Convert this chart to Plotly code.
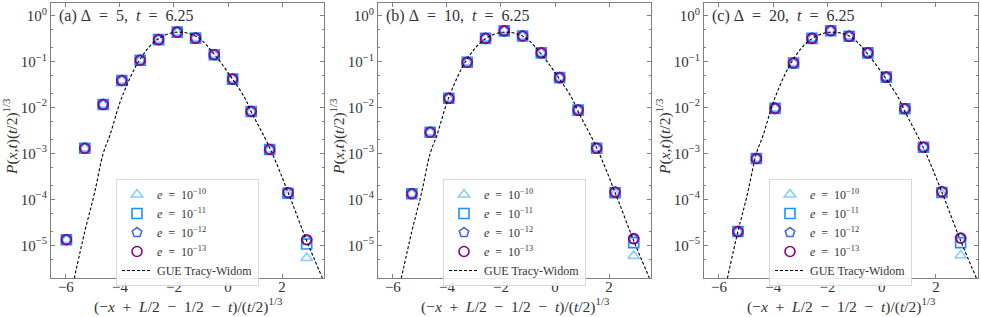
import plotly.graph_objects as go

# ---------------- data ----------------
X_ALL = [-5.98, -5.30, -4.62, -3.93, -3.25, -2.57, -1.88, -1.20, -0.51, 0.17, 0.855, 1.54, 2.22, 2.91]
X_BC = X_ALL[1:]

# panel (a)  Delta = 5
A_TRI = [1.33e-5, 1.3e-3, 1.16e-2, 0.0388, 0.107, 0.30, 0.437, 0.324, 0.141, 0.0415, 0.0082, 1.22e-3, 1.29e-4, 5.3e-6]
A_SQ = [1.33e-5, 1.3e-3, 1.16e-2, 0.0388, 0.107, 0.30, 0.437, 0.324, 0.141, 0.0415, 0.0082, 1.22e-3, 1.36e-4, 1.07e-5]
A_PEN = [1.33e-5, 1.3e-3, 1.16e-2, 0.0388, 0.107, 0.30, 0.437, 0.324, 0.141, 0.0415, 0.0082, 1.22e-3, 1.40e-4, 1.30e-5]
A_CIR = [1.33e-5, 1.3e-3, 1.16e-2, 0.0388, 0.107, 0.30, 0.437, 0.324, 0.141, 0.0415, 0.0082, 1.22e-3, 1.40e-4, 1.33e-5]

# panel (b)  Delta = 10
B_TRI = [1.33e-4, 2.9e-3, 0.0159, 0.0966, 0.32, 0.466, 0.36, 0.155, 0.0447, 0.0088, 1.30e-3, 1.32e-4, 5.9e-6]
B_SQ = [1.33e-4, 2.9e-3, 0.0159, 0.0966, 0.32, 0.466, 0.36, 0.155, 0.0447, 0.0088, 1.30e-3, 1.40e-4, 1.15e-5]
B_PEN = [1.33e-4, 2.9e-3, 0.0159, 0.0966, 0.32, 0.466, 0.36, 0.155, 0.0447, 0.0088, 1.30e-3, 1.44e-4, 1.37e-5]
B_CIR = [1.33e-4, 2.9e-3, 0.0159, 0.0966, 0.32, 0.466, 0.36, 0.155, 0.0447, 0.0088, 1.30e-3, 1.44e-4, 1.40e-5]

# panel (c)  Delta = 20
C_TRI = [2.0e-5, 7.8e-4, 9.6e-3, 0.093, 0.32, 0.47, 0.355, 0.155, 0.046, 0.0094, 1.37e-3, 1.30e-4, 6.0e-6]
C_SQ = [2.0e-5, 7.8e-4, 9.6e-3, 0.093, 0.32, 0.47, 0.355, 0.155, 0.046, 0.0094, 1.37e-3, 1.42e-4, 1.15e-5]
C_PEN = [2.0e-5, 7.8e-4, 9.6e-3, 0.093, 0.32, 0.47, 0.355, 0.155, 0.046, 0.0094, 1.37e-3, 1.47e-4, 1.42e-5]
C_CIR = [2.0e-5, 7.8e-4, 9.6e-3, 0.093, 0.32, 0.47, 0.355, 0.155, 0.046, 0.0094, 1.37e-3, 1.47e-4, 1.45e-5]

# GUE Tracy-Widom curve
TW_X = [-5.69, -5.30, -4.95, -4.62, -4.37, -3.93, -3.26, -2.64, -1.93, -1.16, -0.54, 0.14, 0.63, 0.85, 1.56, 2.23, 2.91, 3.49]
TW_Y = [1.9e-6, 2.0e-5, 1.3e-4, 1.0e-3, 2.5e-3, 1.66e-2, 0.112, 0.295, 0.436, 0.349, 0.152, 0.0437, 0.0158, 8.3e-3, 1.26e-3, 1.38e-4, 1.26e-5, 1.95e-6]

SP = "\u2002"  # en space, mimics math spacing around relations
PANEL_TITLES = [f"(a) Δ{SP}={SP}5,{SP}<i>t</i>{SP}={SP}6.25",
                f"(b) Δ{SP}={SP}10,{SP}<i>t</i>{SP}={SP}6.25",
                f"(c) Δ{SP}={SP}20,{SP}<i>t</i>{SP}={SP}6.25"]
SERIES_NAMES = [f"<i>e</i>{SP}={SP}10<sup>−10</sup>", f"<i>e</i>{SP}={SP}10<sup>−11</sup>",
                f"<i>e</i>{SP}={SP}10<sup>−12</sup>", f"<i>e</i>{SP}={SP}10<sup>−13</sup>"]
X_TITLE = f"(−<i>x</i>{SP}+{SP}<i>L</i>/2{SP}−{SP}1/2{SP}−{SP}<i>t</i>)/(<i>t</i>/2)<sup>1/3</sup>"
Y_TITLE = "<i>P</i>(<i>x</i>,<i>t</i>)(<i>t</i>/2)<sup>1/3</sup>"
X_TICKS = [-6, -4, -2, 0, 2]
X_TICKTEXT = ["−6", "−4", "−2", "0", "2"]
Y_TICKS = [1, 1e-1, 1e-2, 1e-3, 1e-4, 1e-5]
Y_TICKTEXT = ["10<sup>0</sup>", "10<sup>−1</sup>", "10<sup>−2</sup>", "10<sup>−3</sup>",
              "10<sup>−4</sup>", "10<sup>−5</sup>"]

# ---------------- style ----------------
W, H = 981, 317
FONT = "'Liberation Serif', 'Times New Roman', serif"
SYMBOLS = ["triangle-up-open", "square-open", "pentagon-open", "circle-open"]
COLORS = ["#87cefa", "#1e90ff", "#4169e1", "#8b008b"]
AXCOL = "#808080"
TXT = "#333333"

panels_px = [(51, 324), (378, 651), (704, 978)]
top_px, bot_px = 3, 278


def fx(px):
    return px / W


def fy(py):
    return 1 - py / H


fig = go.Figure()

datasets = [
    (X_ALL, [A_TRI, A_SQ, A_PEN, A_CIR]),
    (X_BC, [B_TRI, B_SQ, B_PEN, B_CIR]),
    (X_BC, [C_TRI, C_SQ, C_PEN, C_CIR]),
]
legend_x_px = [116, 443, 769]

for i, (xs, ys_list) in enumerate(datasets):
    sfx = "" if i == 0 else str(i + 1)
    leg = "legend" + sfx
    for j, ys in enumerate(ys_list):
        fig.add_trace(go.Scatter(
            x=xs, y=ys, mode="markers", name=SERIES_NAMES[j],
            marker=dict(symbol=SYMBOLS[j], size=10, color=COLORS[j],
                        line=dict(width=1.6, color=COLORS[j])),
            xaxis="x" + sfx, yaxis="y" + sfx, legend=leg,
        ))
    fig.add_trace(go.Scatter(
        x=TW_X, y=TW_Y, mode="lines", name="GUE Tracy-Widom",
        line=dict(color="black", width=1.1, dash="3px,2px", shape="spline", smoothing=1.0),
        xaxis="x" + sfx, yaxis="y" + sfx, legend=leg,
    ))

layout = dict(
    width=W, height=H,
    margin=dict(l=0, r=0, t=0, b=0),
    paper_bgcolor="white", plot_bgcolor="white",
    font=dict(family=FONT, size=14, color=TXT),
    showlegend=True,
    annotations=[],
)

for i, (l, r) in enumerate(panels_px):
    sfx = "" if i == 0 else str(i + 1)
    layout["xaxis" + sfx] = dict(
        domain=[fx(l), fx(r)], anchor="y" + sfx, range=[-6.55, 3.55],
        tickvals=X_TICKS, ticktext=X_TICKTEXT, ticks="inside", ticklen=4,
        tickcolor=AXCOL, showline=True, linecolor=AXCOL, linewidth=1.2,
        mirror="ticks", showgrid=False, zeroline=False, ticklabelstandoff=-5,
        tickfont=dict(family=FONT, size=15, color=TXT),
    )
    layout["yaxis" + sfx] = dict(
        domain=[fy(bot_px), fy(top_px)], anchor="x" + sfx, type="log",
        range=[-5.71, 0.275], tickvals=Y_TICKS, ticktext=Y_TICKTEXT,
        ticks="inside", ticklen=4, tickcolor=AXCOL, showline=True,
        linecolor=AXCOL, linewidth=1.2, mirror="ticks", showgrid=False,
        zeroline=False, tickfont=dict(family=FONT, size=15, color=TXT),
        minor=dict(ticks="inside", ticklen=2, tickcolor=AXCOL, showgrid=False),
    )
    layout["legend" + sfx] = dict(
        x=fx(legend_x_px[i]), y=fy(179), xanchor="left", yanchor="top",
        xref="paper", yref="paper",
        bgcolor="rgba(255,255,255,0.85)", bordercolor="#d8d8d8", borderwidth=1,
        font=dict(family=FONT, size=12, color=TXT),
        tracegroupgap=0, itemwidth=30,
    )
    # panel label
    layout["annotations"].append(dict(
        text=PANEL_TITLES[i], x=fx(l + 6), y=fy(16), xref="paper", yref="paper",
        xanchor="left", yanchor="middle", showarrow=False,
        font=dict(family=FONT, size=16, color=TXT),
    ))
    # x title
    layout["annotations"].append(dict(
        text=X_TITLE,
        x=fx((l + r) / 2), y=fy(305), xref="paper", yref="paper",
        xanchor="center", yanchor="middle", showarrow=False,
        font=dict(family=FONT, size=15.5, color=TXT),
    ))
    # y title
    layout["annotations"].append(dict(
        text=Y_TITLE,
        x=fx(l - 41), y=fy(137), xref="paper", yref="paper",
        xanchor="center", yanchor="middle", textangle=-90, showarrow=False,
        font=dict(family=FONT, size=15.5, color=TXT),
    ))

fig.update_layout(**layout)
fig.write_html("out.html", config={"displayModeBar": False},
               post_script="document.body.style.margin='0px';document.body.style.padding='0px';")
